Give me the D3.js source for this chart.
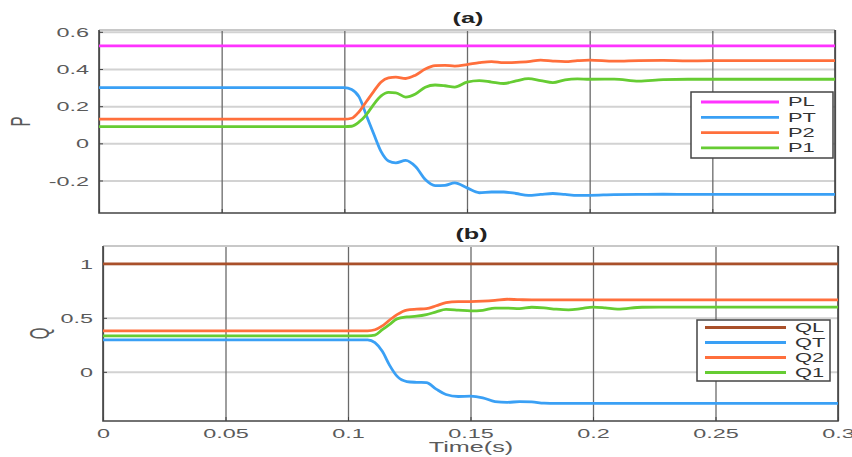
<!DOCTYPE html>
<html>
<head>
<meta charset="utf-8">
<script src="https://cdn.jsdelivr.net/npm/d3@7"></script>
<style>
  body { margin: 0; background: #fff; }
  text { font-family: "Liberation Sans", Arial, sans-serif; }
</style>
</head>
<body>
<svg width="852" height="457"></svg>
<script>
// tijd-as en tick labels
const xTicks = [0, 0.05, 0.1, 0.15, 0.2, 0.25, 0.3]
const xTickLabels = ['0', '0.05', '0.1', '0.15', '0.2', '0.25', '0.3']

// paneel (a): vermogen P
const timeA = [0, 0.100, 0.103, 0.106, 0.109, 0.112, 0.115, 0.118, 0.121, 0.125, 0.129, 0.133, 0.137, 0.141,
    0.145, 0.150, 0.155, 0.160, 0.165, 0.170, 0.175, 0.180, 0.185, 0.190, 0.195, 0.200, 0.210, 0.220,
    0.230, 0.240, 0.250, 0.270, 0.300]
const PL = timeA.map(() => 0.525)
const PT = [0.30, 0.30, 0.29, 0.25, 0.15, 0.05, -0.045, -0.095, -0.105, -0.092, -0.125, -0.195, -0.228, -0.226,
    -0.213, -0.240, -0.266, -0.262, -0.262, -0.270, -0.280, -0.275, -0.270, -0.275, -0.280, -0.280, -0.276, -0.275,
    -0.274, -0.275, -0.275, -0.275, -0.275]
const P2 = [0.13, 0.13, 0.135, 0.17, 0.225, 0.28, 0.33, 0.352, 0.356, 0.349, 0.367, 0.400, 0.418, 0.420,
    0.416, 0.424, 0.434, 0.440, 0.434, 0.436, 0.440, 0.448, 0.443, 0.440, 0.445, 0.448, 0.442, 0.445,
    0.446, 0.444, 0.445, 0.445, 0.445]
const P1 = [0.09, 0.09, 0.092, 0.115, 0.155, 0.21, 0.255, 0.274, 0.272, 0.249, 0.266, 0.302, 0.314, 0.310,
    0.303, 0.330, 0.338, 0.330, 0.322, 0.336, 0.348, 0.338, 0.327, 0.342, 0.347, 0.345, 0.346, 0.335,
    0.343, 0.345, 0.345, 0.345, 0.345]
const yTicksA = [-0.2, 0, 0.2, 0.4, 0.6]

// paneel (b): blindvermogen Q
const timeB = [0, 0.108, 0.111, 0.114, 0.117, 0.120, 0.124, 0.128, 0.132, 0.136, 0.140, 0.145, 0.150, 0.155,
    0.160, 0.165, 0.170, 0.175, 0.180, 0.185, 0.190, 0.195, 0.200, 0.205, 0.210, 0.220, 0.230, 0.250, 0.300]
const QL = timeB.map(() => 1.0)
const QT = [0.296, 0.296, 0.27, 0.19, 0.06, -0.04, -0.09, -0.097, -0.10, -0.16, -0.21, -0.228, -0.225, -0.24,
    -0.275, -0.282, -0.276, -0.278, -0.290, -0.292, -0.292, -0.292, -0.292, -0.292, -0.292, -0.292, -0.292, -0.292, -0.292]
const Q2 = [0.38, 0.38, 0.39, 0.425, 0.48, 0.53, 0.572, 0.580, 0.585, 0.612, 0.640, 0.650, 0.651, 0.655,
    0.662, 0.672, 0.668, 0.667, 0.667, 0.667, 0.667, 0.667, 0.667, 0.667, 0.667, 0.667, 0.667, 0.667, 0.667]
const Q1 = [0.333, 0.333, 0.34, 0.39, 0.44, 0.49, 0.508, 0.515, 0.530, 0.555, 0.578, 0.572, 0.565, 0.570,
    0.590, 0.590, 0.585, 0.598, 0.592, 0.580, 0.574, 0.585, 0.600, 0.592, 0.580, 0.598, 0.600, 0.600, 0.600]
const yTicksB = [0, 0.5, 1]

const svg = d3.select('svg')
const SX = 1.8 // tekst is horizontaal uitgerekt in het origineel

// zet een tekst op (x,y) en rek hem horizontaal uit
function stretch(sel, x, y, sx) {
    sel.attr('x', 0).attr('y', 0)
        .attr('transform', `translate(${x},${y}) scale(${sx},1)`)
}

const panels = [
    {
        title: '(a)', label: 'P', time: timeA, xRange: [99, 835], yRange: [213, 30], yDomain: [-0.375, 0.61],
        yTicks: yTicksA, labelX: 29.5, xLabels: false,
        series: [
            {name: 'PL', values: PL, color: '#ff33ff'},
            {name: 'PT', values: PT, color: '#3aa0f5'},
            {name: 'P2', values: P2, color: '#ff6f3c'},
            {name: 'P1', values: P1, color: '#66cc33'}
        ],
        legend: {x: 691, y: 92, w: 142, h: 66, x1: 701, x2: 779, tx: 788, y0: 102, dy: 15.3}
    },
    {
        title: '(b)', label: 'Q', time: timeB, xRange: [103, 838], yRange: [421, 246], yDomain: [-0.455, 1.165],
        yTicks: yTicksB, labelX: 48.5, xLabels: true,
        series: [
            {name: 'QL', values: QL, color: '#a9502a'},
            {name: 'QT', values: QT, color: '#3aa0f5'},
            {name: 'Q2', values: Q2, color: '#ff6f3c'},
            {name: 'Q1', values: Q1, color: '#66cc33'}
        ],
        legend: {x: 697, y: 320, w: 133, h: 61, x1: 705, x2: 786, tx: 795, y0: 327.5, dy: 15}
    }
]

panels.forEach(p => {
    const x = d3.scaleLinear().domain([0, 0.3]).range(p.xRange)
    const y = d3.scaleLinear().domain(p.yDomain).range(p.yRange)
    const left = p.xRange[0], right = p.xRange[1]
    const top = p.yRange[1], bottom = p.yRange[0]
    const g = svg.append('g')

    // horizontale gridlijnen (licht)
    g.append('g')
        .attr('transform', `translate(${left},0)`)
        .call(d3.axisLeft(y).tickValues(p.yTicks).tickSize(-(right - left)).tickFormat(''))
        .call(a => a.select('.domain').remove())
        .call(a => a.selectAll('line').attr('stroke', '#d2d2d2').attr('stroke-width', 2))

    // verticale gridlijnen (donker)
    g.append('g')
        .attr('transform', `translate(0,${bottom})`)
        .call(d3.axisBottom(x).tickValues(xTicks).tickSize(-(bottom - top)).tickFormat(''))
        .call(a => a.select('.domain').remove())
        .call(a => a.selectAll('line').attr('stroke', '#6a6a6a').attr('stroke-width', 1.3))

    // kader
    g.append('line').attr('x1', left).attr('x2', right).attr('y1', top).attr('y2', top)
        .attr('stroke', '#c8c8c8').attr('stroke-width', 2)
    g.append('path')
        .attr('d', `M${left},${top}V${bottom}H${right}V${top}`)
        .attr('fill', 'none').attr('stroke', '#444').attr('stroke-width', 1.6)

    // y-as labels
    const yAxis = g.append('g')
        .attr('transform', `translate(${left},0)`)
        .call(d3.axisLeft(y).tickValues(p.yTicks).tickSize(-4).tickFormat(d3.format('')))
    yAxis.select('.domain').remove()
    yAxis.selectAll('line').attr('stroke', '#444')
    yAxis.selectAll('text')
        .attr('fill', '#5a5a5a').attr('font-size', 13).attr('dy', '0.35em')
        .text(d => d === 0 ? '0' : d3.format('')(d).replace('−', '-'))
        .each(function () { stretch(d3.select(this), -10, 0, SX) })

    // x-as
    const xAxis = g.append('g')
        .attr('transform', `translate(0,${bottom})`)
        .call(d3.axisBottom(x).tickValues(xTicks).tickSize(-4).tickFormat((d, i) => xTickLabels[i]))
    xAxis.select('.domain').remove()
    xAxis.selectAll('line').attr('stroke', '#444')
    if (p.xLabels) {
        xAxis.selectAll('text')
            .attr('fill', '#5a5a5a').attr('font-size', 13).attr('dy', '0.35em')
            .each(function () { stretch(d3.select(this), 0, 12, SX) })
        g.append('text').text('Time(s)')
            .attr('fill', '#5a5a5a').attr('font-size', 14).attr('text-anchor', 'middle').attr('dy', '0.35em')
            .call(s => stretch(s, 471, 447, SX))
    } else {
        xAxis.selectAll('text').remove()
    }

    // titel
    g.append('text').text(p.title)
        .attr('fill', '#222').attr('font-size', 14).attr('font-weight', 'bold')
        .attr('text-anchor', 'middle').attr('dy', '0.35em')
        .call(s => stretch(s, (x(0.15) + 1), top - 12, SX))

    // y label, gedraaid
    g.append('text').text(p.label)
        .attr('fill', '#5a5a5a').attr('font-size', 15).attr('text-anchor', 'middle')
        .attr('transform', `translate(${p.labelX},${(top + bottom) / 2}) rotate(-90) scale(1,${SX})`)

    // lijnen
    const line = d3.line()
        .x((d, i) => x(p.time[i]))
        .y(d => y(d))
        .curve(d3.curveMonotoneX)
    g.selectAll('.serie').data(p.series).enter()
        .append('path')
        .attr('class', 'serie')
        .attr('d', d => line(d.values))
        .attr('fill', 'none')
        .attr('stroke', d => d.color)
        .attr('stroke-width', 2.8)

    // legenda
    const L = p.legend
    const lg = g.append('g')
    lg.append('rect').attr('x', L.x).attr('y', L.y).attr('width', L.w).attr('height', L.h)
        .attr('fill', '#fff').attr('stroke', '#444').attr('stroke-width', 1.5)
    p.series.forEach((s, i) => {
        const yy = L.y0 + i * L.dy
        lg.append('line').attr('x1', L.x1).attr('x2', L.x2).attr('y1', yy).attr('y2', yy)
            .attr('stroke', s.color).attr('stroke-width', 2.8)
        lg.append('text').text(s.name)
            .attr('fill', '#333').attr('font-size', 12.5).attr('dy', '0.35em')
            .call(t => stretch(t, L.tx, yy, 1.75))
    })
})
</script>
</body>
</html>
